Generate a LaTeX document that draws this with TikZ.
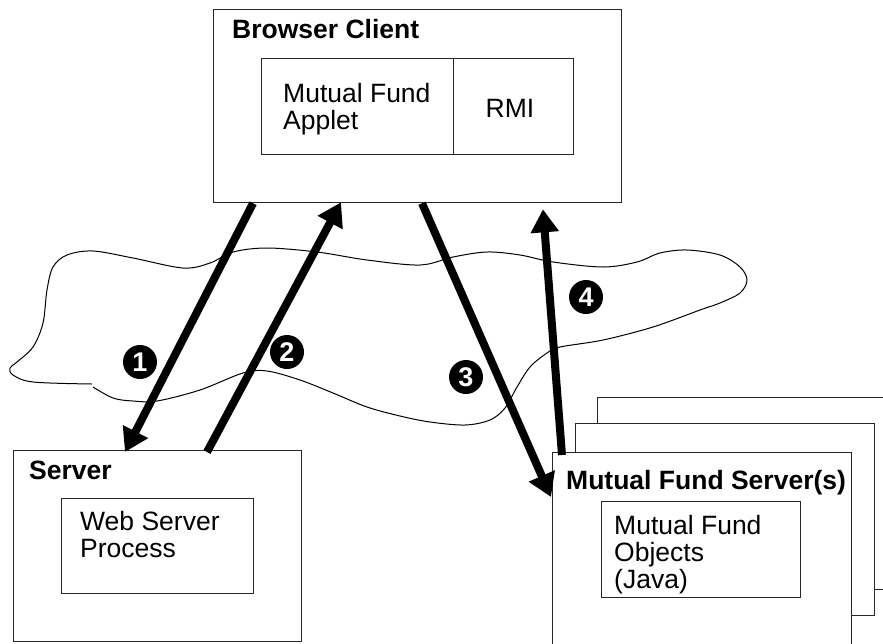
\documentclass[tikz,border=0pt]{standalone}
\usepackage{fontspec}
\setmainfont{Liberation Sans}
\usetikzlibrary{arrows.meta}

\tikzset{
  box/.style={draw=black!85, line width=1.3pt, fill=white, inner sep=0pt, anchor=north west},
  lbl/.style={inner sep=0pt, anchor=base west, align=left,
              font=\fontsize{26.5}{27}\selectfont},
  title/.style={lbl, font=\fontsize{26.5}{27}\selectfont\bfseries},
  flow/.style={line width=8pt, -{Triangle[length=23pt, width=27pt]}},
  stepno/.style={circle, fill=black, inner sep=0pt, minimum size=34pt,
                 text=white, font=\fontsize{27}{27}\selectfont\bfseries},
  cloud line/.style={line width=1pt, black}
}

\begin{document}
\begin{tikzpicture}[x=1pt, y=-1pt]
\clip (0,0) rectangle (883,643);
\useasboundingbox (0,0) rectangle (883,643);

% network cloud
\draw[cloud line] plot[smooth, tension=0.55] coordinates {
  (93,387) (113,398) (133,401) (157,401) (200,390) (243,373) (267,371)
  (300,380) (333,393) (367,407) (400,416) (430,422) (465,425) (490,420)
  (505,408) (517,387) (530,367) (547,353) (560,347) (603,340) (653,327)
  (700,310) (720,303) (740,293) (747,280) (740,267) (720,255) (687,250)
  (660,253) (637,262) (603,267) (553,262) (520,255) (487,252) (453,257)
  (420,265) (367,260) (317,252) (267,248) (233,252) (210,263) (183,268)
  (133,258) (93,251) (67,255) (53,267) (47,290) (43,323) (33,347)
  (17,362) (10,368) (13,375) (33,382) (92,384)};

% browser client
\node[box, minimum width=408pt, minimum height=193pt] (browser) at (213,9) {};
\node[title] (browsertitle) at (232,38) {Browser Client};
\node[box, minimum width=192pt, minimum height=96pt] (applet) at (261,58) {};
\node[box, minimum width=120pt, minimum height=96pt] (rmi) at (453,58) {};
\node[lbl] (applettext) at (283,129) {Mutual Fund\\Applet};
\node[lbl, anchor=base] (rmitext) at (510,117) {RMI};

% web server
\node[box, minimum width=288pt, minimum height=191pt] (server) at (13,450) {};
\node[title] (servertitle) at (29,479) {Server};
\node[box, minimum width=192pt, minimum height=95pt] (webproc) at (61,498) {};
\node[lbl] (webtext) at (80,557) {Web Server\\Process};

% stack of mutual fund servers
\node[box, minimum width=303pt, minimum height=192pt] (mfsback) at (597,397) {};
\node[box, minimum width=299pt, minimum height=192pt] (mfsmid) at (575,423) {};
\node[box, minimum width=299pt, minimum height=210pt] (mfs) at (552,452) {};
\node[title] (mfstitle) at (566,489) {Mutual Fund Server(s)};
\node[box, minimum width=199pt, minimum height=96pt] (objects) at (601,501) {};
\node[lbl] (objtext) at (614,588) {Mutual Fund\\Objects\\(Java)};

% request / response flows
\draw[flow] ([xshift=40pt]browser.south west) -- ([xshift=112pt, yshift=-2pt]server.north west);
\draw[flow] ([xshift=194pt, yshift=-2pt]server.north west) -- ([xshift=128pt, yshift=1pt]browser.south west);
\draw[flow] ([xshift=209pt]browser.south west) -- ([xshift=-1pt, yshift=-45pt]mfs.north west);
\draw[flow] ([xshift=10pt, yshift=-3pt]mfs.north west) -- ([xshift=330pt, yshift=-6pt]browser.south west);

% step numbers
\node[stepno] (n1) at (140,362) {1};
\node[stepno] (n2) at (287,352) {2};
\node[stepno] (n3) at (466,377) {3};
\node[stepno] (n4) at (586,297) {4};
\end{tikzpicture}
\end{document}
